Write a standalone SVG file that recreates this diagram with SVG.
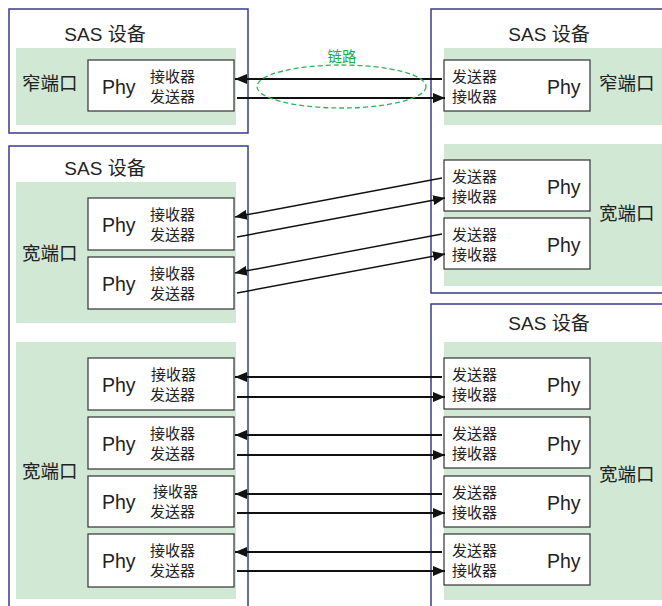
<svg xmlns="http://www.w3.org/2000/svg" width="662" height="606" viewBox="0 0 662 606">
<defs>
<style>
.dev{fill:#fff;stroke:#3b3b8f;stroke-width:1.5}
.port{fill:#d1e8d5}
.phy{fill:#fff;stroke:#333;stroke-width:1.2}
text{font-family:"Liberation Sans","Noto Sans CJK SC",sans-serif;fill:#222}
.t{font-size:19px}
.pl{font-size:18.5px}
.p{font-size:19.5px}
.s{font-size:15px}
.c{stroke:#111;stroke-width:1.8;fill:none}
.d{stroke-width:1.4}
.a{marker-end:url(#ah)}
</style>
<marker id="ah" viewBox="0 0 12 10" refX="12" refY="5" markerWidth="12" markerHeight="10" markerUnits="userSpaceOnUse" orient="auto">
<path d="M0,0 L12,5 L0,10 z" fill="#111"/>
</marker>
</defs>
<rect width="662" height="606" fill="#fff"/>

<g id="devA">
<rect class="dev" x="9" y="9" width="239" height="124"/>
<text class="t" x="105" y="41" text-anchor="middle">SAS 设备</text>
<rect class="port" x="16" y="48" width="220" height="77"/>
<text class="pl" x="22" y="90">窄端口</text>
</g>
<g id="phyA1"><rect class="phy" x="88" y="60" width="146" height="51"/><text class="p" x="102" y="94">Phy</text><text class="s" x="150" y="82">接收器</text><text class="s" x="150" y="102">发送器</text></g>

<g id="devB">
<rect class="dev" x="431" y="9" width="240" height="284"/>
<text class="t" x="549" y="41" text-anchor="middle">SAS 设备</text>
<rect class="port" x="444" y="48" width="220" height="77"/>
<text class="pl" x="599" y="90">窄端口</text>
<rect class="port" x="444" y="144" width="220" height="142"/>
<text class="pl" x="599" y="220">宽端口</text>
</g>
<g id="phyB1"><rect class="phy" x="444" y="60" width="146" height="51"/><text class="s" x="452" y="82">发送器</text><text class="s" x="452" y="102">接收器</text><text class="p" x="547" y="94">Phy</text></g>
<g id="phyB2"><rect class="phy" x="444" y="160" width="146" height="51"/><text class="s" x="452" y="182">发送器</text><text class="s" x="452" y="202">接收器</text><text class="p" x="547" y="194">Phy</text></g>
<g id="phyB3"><rect class="phy" x="444" y="218" width="146" height="51"/><text class="s" x="452" y="240">发送器</text><text class="s" x="452" y="260">接收器</text><text class="p" x="547" y="252">Phy</text></g>

<g id="devC">
<rect class="dev" x="9" y="146" width="239" height="470"/>
<text class="t" x="105" y="175" text-anchor="middle">SAS 设备</text>
<rect class="port" x="16" y="182" width="220" height="141"/>
<text class="pl" x="22" y="260">宽端口</text>
<rect class="port" x="16" y="342" width="220" height="257"/>
<text class="pl" x="22" y="478">宽端口</text>
</g>
<g id="phyC1"><rect class="phy" x="88" y="198" width="146" height="52"/><text class="p" x="102" y="232">Phy</text><text class="s" x="150" y="220">接收器</text><text class="s" x="150" y="240">发送器</text></g>
<g id="phyC2"><rect class="phy" x="88" y="257" width="146" height="52"/><text class="p" x="102" y="291">Phy</text><text class="s" x="150" y="279">接收器</text><text class="s" x="150" y="299">发送器</text></g>
<g id="phyC3"><rect class="phy" x="88" y="358" width="146" height="52"/><text class="p" x="102" y="392">Phy</text><text class="s" x="151" y="380">接收器</text><text class="s" x="150" y="400">发送器</text></g>
<g id="phyC4"><rect class="phy" x="88" y="417" width="146" height="52"/><text class="p" x="102" y="451">Phy</text><text class="s" x="150" y="439">接收器</text><text class="s" x="150" y="459">发送器</text></g>
<g id="phyC5"><rect class="phy" x="88" y="476" width="146" height="51"/><text class="p" x="102" y="509">Phy</text><text class="s" x="153" y="497">接收器</text><text class="s" x="150" y="517">发送器</text></g>
<g id="phyC6"><rect class="phy" x="88" y="534" width="146" height="53"/><text class="p" x="102" y="568">Phy</text><text class="s" x="150" y="556">接收器</text><text class="s" x="150" y="576">发送器</text></g>

<g id="devD">
<rect class="dev" x="431" y="304" width="240" height="320"/>
<text class="t" x="549" y="330" text-anchor="middle">SAS 设备</text>
<rect class="port" x="444" y="342" width="220" height="258"/>
<text class="pl" x="599" y="481">宽端口</text>
</g>
<g id="phyD1"><rect class="phy" x="444" y="358" width="146" height="51"/><text class="s" x="452" y="380">发送器</text><text class="s" x="452" y="400">接收器</text><text class="p" x="547" y="392">Phy</text></g>
<g id="phyD2"><rect class="phy" x="444" y="417" width="146" height="51"/><text class="s" x="452" y="439">发送器</text><text class="s" x="452" y="459">接收器</text><text class="p" x="547" y="451">Phy</text></g>
<g id="phyD3"><rect class="phy" x="444" y="476" width="146" height="51"/><text class="s" x="452" y="498">发送器</text><text class="s" x="452" y="518">接收器</text><text class="p" x="547" y="510">Phy</text></g>
<g id="phyD4"><rect class="phy" x="444" y="534" width="146" height="51"/><text class="s" x="452" y="556">发送器</text><text class="s" x="452" y="576">接收器</text><text class="p" x="547" y="568">Phy</text></g>

<g id="connectors">
<line class="c a" x1="442" y1="79" x2="235" y2="79"/>
<line class="c a" x1="237" y1="98" x2="445" y2="98"/>
<line class="c d a" x1="442" y1="178" x2="235" y2="217"/>
<line class="c d a" x1="237" y1="237" x2="445" y2="198"/>
<line class="c d a" x1="442" y1="234" x2="235" y2="273"/>
<line class="c d a" x1="237" y1="293" x2="445" y2="254"/>
<line class="c a" x1="442" y1="377" x2="235" y2="377"/>
<line class="c a" x1="237" y1="397" x2="445" y2="397"/>
<line class="c a" x1="442" y1="435" x2="235" y2="435"/>
<line class="c a" x1="237" y1="455" x2="445" y2="455"/>
<line class="c a" x1="442" y1="494" x2="235" y2="494"/>
<line class="c a" x1="237" y1="513" x2="445" y2="513"/>
<line class="c a" x1="442" y1="552" x2="235" y2="552"/>
<line class="c a" x1="237" y1="571" x2="445" y2="571"/>
</g>

<g id="link">
<ellipse cx="341.5" cy="86.5" rx="84.5" ry="21.5" fill="none" stroke="#2fb35a" stroke-width="1.3" stroke-dasharray="5,3"/>
<text x="342" y="62" text-anchor="middle" font-size="14.5" style="fill:#22a850">链路</text>
</g>
</svg>
